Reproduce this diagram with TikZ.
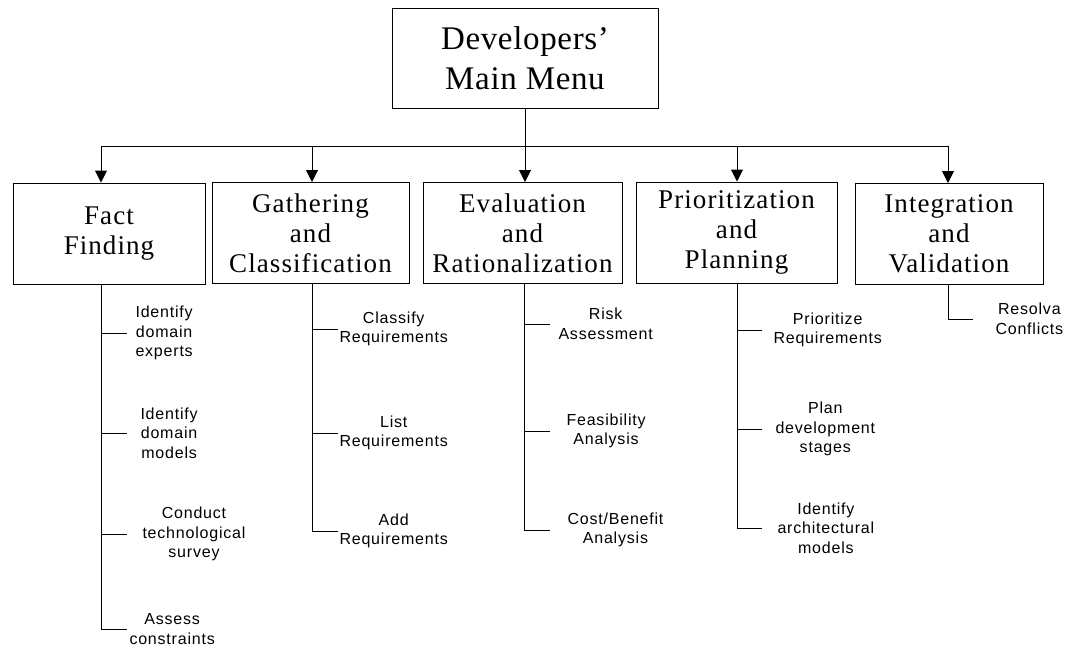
\documentclass[tikz,border=0pt]{standalone}
\usepackage{fontspec}
\setmainfont{Liberation Serif}
\newfontfamily\stagefont[LetterSpace=4]{Liberation Serif}
\newfontfamily\menufont[LetterSpace=2]{Liberation Serif}
\newfontfamily\taskfont[LetterSpace=5]{Liberation Sans}
\usepackage{tikz}
\usetikzlibrary{arrows.meta,positioning}

\begin{document}
\begin{tikzpicture}[x=1pt, y=-1pt, line width=1pt, >={Triangle[width=12pt,length=12pt]},
    menubox/.style={draw, minimum width=266pt, minimum height=100pt, inner sep=0pt, align=center,
        font=\menufont\fontsize{33}{40}\selectfont},
    stagebox/.style={draw, minimum height=101pt, inner sep=0pt, align=center,
        font=\stagefont\fontsize{27}{30}\selectfont},
    taskitem/.style={anchor=west, inner ysep=0pt, align=center,
        font=\taskfont\fontsize{16}{19.5}\selectfont}]
    \useasboundingbox (0,0) rectangle (1066,646);

    \node[menubox] (menu) at (525,58) {Developers’\\Main Menu};

    \node[stagebox, minimum width=192pt] (fact)   at (109,233.5) {Fact\\Finding};
    \node[stagebox, minimum width=197pt] (gather) at (310.5,233) {Gathering\\and\\Classification};
    \node[stagebox, minimum width=199pt] (eval)   at (522.5,233) {Evaluation\\and\\Rationalization};
    \node[stagebox, minimum width=201pt] (prio)   at (736.5,232.5) {Prioritization\\and\\Planning};
    \node[stagebox, minimum width=188pt] (integ)  at (949,234) {Integration\\and\\Validation};

    % menu bus
    \coordinate (d1) at (101,146);
    \coordinate (d5) at (948,146);
    \draw (menu.south) -- (menu.south |- d1);
    \draw (d1) -- (d5);
    \draw[->] (d1) -- (d1 |- fact.north);
    \draw[->] (d5) -- (d5 |- integ.north);
    \foreach \s/\x in {gather/312, eval/525, prio/737}
        \draw[->] (\x,146) -- (\x,0 |- \s.north);

    % tasks of each stage
    \foreach \n/\y/\g/\t in {1/333/8/{Identify\\domain\\experts}, 2/433/13/{Identify\\domain\\models},
            3/534/15/{Conduct\\technological\\survey}, 4/629/2/{Assess\\constraints}}
        \node[taskitem, inner xsep=\g pt] (ff\n) at (127,\y) {\t};
    \foreach \n/\y/\g/\t in {1/329/1/{Classify\\Requirements}, 2/433/1/{List\\Requirements},
            3/531/1/{Add\\Requirements}}
        \node[taskitem, inner xsep=\g pt] (gc\n) at (338,\y) {\t};
    \foreach \n/\y/\g/\t in {1/324/8/{Risk\\Assessment}, 2/431/16/{Feasibility\\Analysis},
            3/530/17/{Cost/Benefit\\Analysis}}
        \node[taskitem, inner xsep=\g pt] (er\n) at (550,\y) {\t};
    \foreach \n/\y/\g/\t in {1/330/11/{Prioritize\\Requirements}, 2/429/13/{Plan\\development\\stages},
            3/528/15/{Identify\\architectural\\models}}
        \node[taskitem, inner xsep=\g pt] (pp\n) at (762,\y) {\t};
    \node[taskitem, inner xsep=22pt] (iv1) at (973,319) {Resolva\\Conflicts};

    \draw (d1 |- fact.south) -- (d1 |- ff4.west);
    \foreach \n in {1,...,4}
        \draw (d1 |- ff\n.west) -- (ff\n.west);
    \draw (312,0 |- gather.south) -- (312,0 |- gc3.west);
    \foreach \n in {1,2,3}
        \draw (312,0 |- gc\n.west) -- (gc\n.west);
    \draw (524,0 |- eval.south) -- (524,0 |- er3.west);
    \foreach \n in {1,2,3}
        \draw (524,0 |- er\n.west) -- (er\n.west);
    \draw (737,0 |- prio.south) -- (737,0 |- pp3.west);
    \foreach \n in {1,2,3}
        \draw (737,0 |- pp\n.west) -- (pp\n.west);
    \draw (d5 |- integ.south) -- (d5 |- iv1.west) -- (iv1.west);
\end{tikzpicture}
\end{document}
